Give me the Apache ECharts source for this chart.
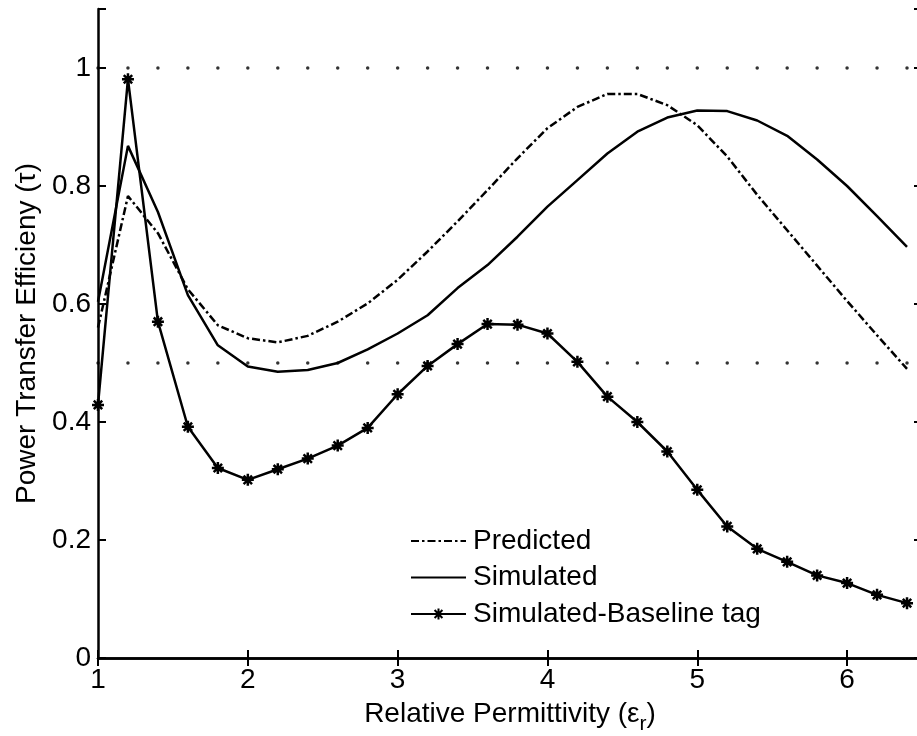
<!DOCTYPE html>
<html>
<head>
<meta charset="utf-8">
<script src="https://cdn.jsdelivr.net/npm/echarts@6/dist/echarts.min.js"></script>
<style>
  html, body { margin: 0; padding: 0; background: #fff; }
  #chart { width: 917px; height: 736px; }
</style>
</head>
<body>
<div id="chart"></div>
<script>
// Relative permittivity samples
const xs = [1.0, 1.2, 1.4, 1.6, 1.8, 2.0, 2.2, 2.4, 2.6, 2.8, 3.0, 3.2, 3.4, 3.6,
            3.8, 4.0, 4.2, 4.4, 4.6, 4.8, 5.0, 5.2, 5.4, 5.6, 5.8, 6.0, 6.2, 6.4];
const predicted = [0.56, 0.783, 0.72, 0.625, 0.564, 0.542, 0.535, 0.546, 0.570, 0.601,
                   0.641, 0.689, 0.740, 0.793, 0.847, 0.898, 0.934, 0.956, 0.956, 0.937,
                   0.903, 0.850, 0.785, 0.725, 0.665, 0.605, 0.547, 0.49];
const simulated = [0.604, 0.868, 0.756, 0.615, 0.53, 0.494, 0.485, 0.488, 0.50, 0.523,
                   0.55, 0.581, 0.627, 0.666, 0.714, 0.765, 0.81, 0.855, 0.892, 0.916,
                   0.928, 0.927, 0.911, 0.885, 0.845, 0.80, 0.749, 0.697];
const baseline = [0.429, 0.981, 0.570, 0.392, 0.322, 0.302, 0.32, 0.338, 0.36, 0.39,
                  0.447, 0.495, 0.532, 0.566, 0.565, 0.550, 0.502, 0.443, 0.40, 0.35,
                  0.285, 0.223, 0.185, 0.163, 0.14, 0.127, 0.107, 0.093];
const refLevels = [1.0, 0.5];
const xTickLabels = ['1', '2', '3', '4', '5', '6'];
const yTickLabels = ['0', '0.2', '0.4', '0.6', '0.8', '1'];
const seriesNames = ['Predicted', 'Simulated', 'Simulated-Baseline tag'];

const pairs = arr => xs.map((x, i) => [x, arr[i]]);
const FONT = 'Liberation Sans, Arial, Helvetica, sans-serif';
const STAR = 'path://M5 0 L5 10 M0 5 L10 5 M1.5 1.5 L8.5 8.5 M8.5 1.5 L1.5 8.5';

const fmtLabel = list => v => {
  const s = String(Math.round(v * 1000) / 1000);
  return list.indexOf(s) >= 0 ? s : '';
};

const chart = echarts.init(document.getElementById('chart'), null, { renderer: 'canvas' });

const refSeries = refLevels.map(level => ({
  type: 'scatter',
  name: 'ref' + level,
  data: xs.map(x => [x, level]),
  symbol: 'circle',
  symbolSize: 3.5,
  itemStyle: { color: '#000' },
  silent: true,
  z: 1
}));

chart.setOption({
  backgroundColor: '#fff',
  animation: false,
  textStyle: { fontFamily: FONT },
  grid: { left: 98, top: 9, width: 824, height: 649, containLabel: false, outerBoundsMode: 'none' },
  legend: {
    data: [
      { name: seriesNames[0], itemStyle: { opacity: 0 } },
      { name: seriesNames[1], itemStyle: { opacity: 0 } },
      { name: seriesNames[2] }
    ],
    orient: 'vertical',
    left: 405,
    top: 522,
    itemWidth: 55,
    itemHeight: 14,
    itemGap: 8.5,
    textStyle: { fontSize: 28, color: '#000', fontFamily: FONT, lineHeight: 28, padding: [0, 0, 0, 2] }
  },
  xAxis: [{
    type: 'value',
    min: 1, max: 6.5, interval: 1,
    name: '{a|Relative Permittivity (ε}{s|r}{a|)}',
    nameLocation: 'middle',
    nameGap: 42,
    nameTextStyle: {
      rich: {
        a: { fontSize: 28, color: '#000', fontFamily: FONT, verticalAlign: 'top' },
        s: { fontSize: 21, color: '#000', fontFamily: FONT, verticalAlign: 'top', padding: [14, 0, 0, 0] }
      }
    },
    axisLine: { show: true, lineStyle: { color: '#000', width: 2.5 } },
    axisTick: { show: true, inside: true, length: 8, lineStyle: { color: '#000', width: 2 } },
    axisLabel: { fontSize: 28, color: '#000', fontFamily: FONT, margin: 8, formatter: fmtLabel(xTickLabels) },
    splitLine: { show: false }
  }, {
    type: 'value',
    position: 'top',
    min: 1, max: 6.5, interval: 1,
    axisLine: { show: true, lineStyle: { color: '#000', width: 2.5 } },
    axisTick: { show: true, inside: true, length: 8, lineStyle: { color: '#000', width: 2 } },
    axisLabel: { show: false },
    splitLine: { show: false }
  }],
  yAxis: [{
    type: 'value',
    min: 0, max: 1.1, interval: 0.2,
    name: 'Power Transfer Efficieny (τ)',
    nameLocation: 'middle',
    nameGap: 56,
    nameTextStyle: { fontSize: 28, color: '#000', fontFamily: FONT },
    axisLine: { show: true, lineStyle: { color: '#000', width: 2.5 } },
    axisTick: { show: true, inside: true, length: 8, lineStyle: { color: '#000', width: 2 } },
    axisLabel: { fontSize: 28, color: '#000', fontFamily: FONT, margin: 7, formatter: fmtLabel(yTickLabels) },
    splitLine: { show: false }
  }, {
    type: 'value',
    position: 'right',
    min: 0, max: 1.1, interval: 0.2,
    axisLine: { show: true, lineStyle: { color: '#000', width: 2.5 } },
    axisTick: { show: true, inside: true, length: 8, lineStyle: { color: '#000', width: 2 } },
    axisLabel: { show: false },
    splitLine: { show: false }
  }],
  series: refSeries.concat([
    {
      type: 'line',
      name: seriesNames[0],
      data: pairs(predicted),
      symbol: 'none',
      lineStyle: { color: '#000', width: 2.5, type: [8, 3, 2.5, 3] },
      itemStyle: { color: '#000' },
      z: 3
    },
    {
      type: 'line',
      name: seriesNames[1],
      data: pairs(simulated),
      symbol: 'none',
      lineStyle: { color: '#000', width: 2.5 },
      itemStyle: { color: '#000' },
      z: 3
    },
    {
      type: 'line',
      name: seriesNames[2],
      data: pairs(baseline),
      symbol: STAR,
      symbolSize: 12,
      showAllSymbol: true,
      lineStyle: { color: '#000', width: 2.5 },
      itemStyle: { color: '#000', borderColor: '#000', borderWidth: 2.5 },
      z: 4
    }
  ])
});
</script>
</body>
</html>
